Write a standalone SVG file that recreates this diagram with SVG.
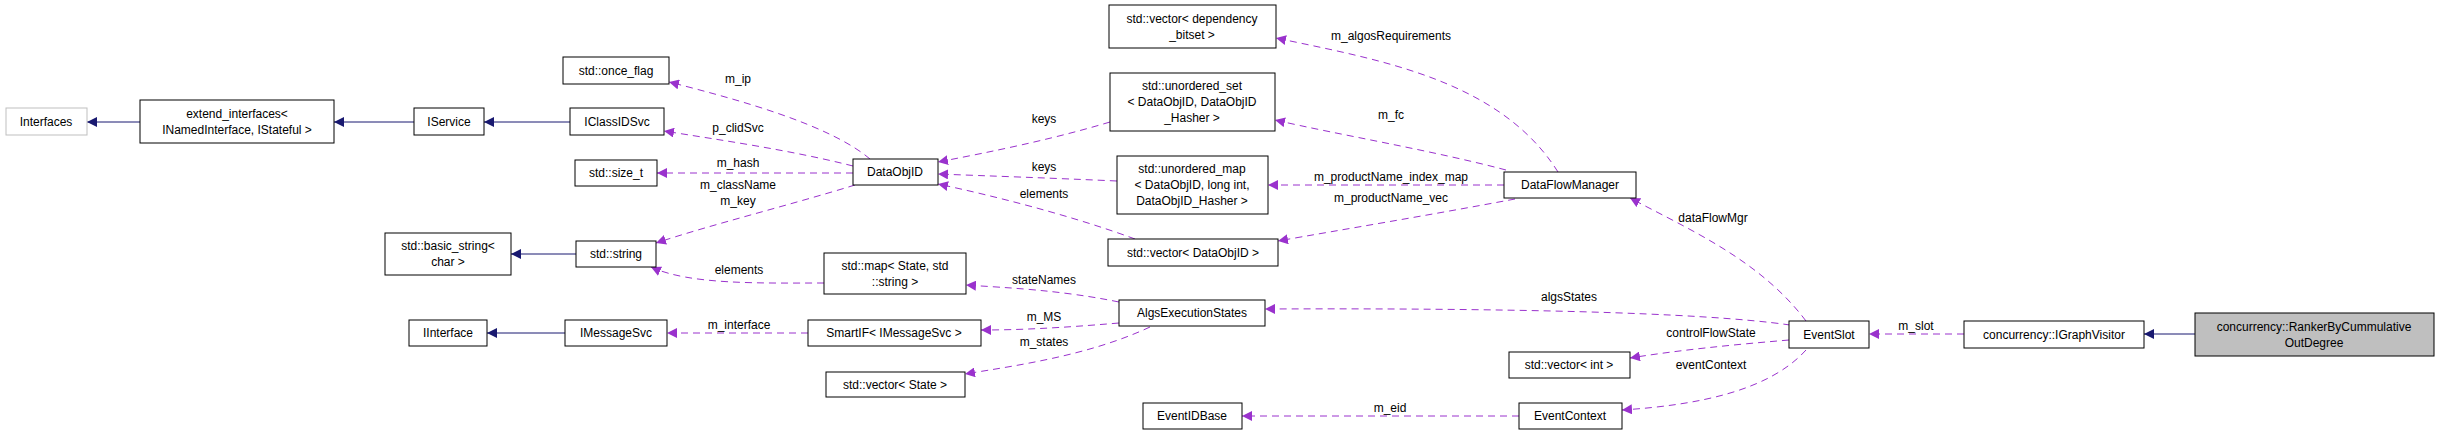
<svg xmlns="http://www.w3.org/2000/svg" width="2440" height="439" viewBox="0 0 2440 439">
<style>
.n rect{fill:#fff;stroke:#000;stroke-width:1}
text{font-family:"Liberation Sans",Arial,sans-serif;font-size:12px;fill:#000;text-anchor:middle}
.b{fill:none;stroke:#191970;stroke-width:1}
.p{fill:none;stroke:#9a32cd;stroke-width:1;stroke-dasharray:7,5}
</style>
<defs>
<marker id="ab" viewBox="0 0 10 10" refX="10" refY="5" markerWidth="10" markerHeight="10" markerUnits="userSpaceOnUse" orient="auto"><path d="M0,0L10,5L0,10z" fill="#191970"/></marker>
<marker id="ap" viewBox="0 0 10 10" refX="10" refY="5" markerWidth="10" markerHeight="10" markerUnits="userSpaceOnUse" orient="auto"><path d="M0,0L10,5L0,10z" fill="#9a32cd"/></marker>
</defs>
<g id="edges">
<path class="b" marker-end="url(#ab)" d="M140,122H87"/>
<path class="b" marker-end="url(#ab)" d="M414,122H334"/>
<path class="b" marker-end="url(#ab)" d="M570,122H484"/>
<path class="b" marker-end="url(#ab)" d="M576,254H511"/>
<path class="b" marker-end="url(#ab)" d="M565,333H487"/>
<path class="b" marker-end="url(#ab)" d="M2195,334H2144"/>
<path class="p" marker-end="url(#ap)" d="M870,159C830,125 740,100 669,82"/>
<path class="p" marker-end="url(#ap)" d="M853,166C790,150 720,140 664,131"/>
<path class="p" marker-end="url(#ap)" d="M853,173H657"/>
<path class="p" marker-end="url(#ap)" d="M855,185C790,205 710,225 656,243"/>
<path class="p" marker-end="url(#ap)" d="M824,283C760,283 690,285 651,267"/>
<path class="p" marker-end="url(#ap)" d="M808,333H667"/>
<path class="p" marker-end="url(#ap)" d="M1110,122C1050,140 990,152 938,162"/>
<path class="p" marker-end="url(#ap)" d="M1117,181C1050,178 990,176 938,174"/>
<path class="p" marker-end="url(#ap)" d="M1135,239C1070,215 990,195 938,184"/>
<path class="p" marker-end="url(#ap)" d="M1558,172C1500,80 1380,60 1276,38"/>
<path class="p" marker-end="url(#ap)" d="M1506,170C1430,150 1340,135 1275,120"/>
<path class="p" marker-end="url(#ap)" d="M1504,185H1268"/>
<path class="p" marker-end="url(#ap)" d="M1515,199C1430,215 1340,230 1278,241"/>
<path class="p" marker-end="url(#ap)" d="M1119,302C1060,290 1010,288 966,285"/>
<path class="p" marker-end="url(#ap)" d="M1119,323C1060,328 1020,330 981,330"/>
<path class="p" marker-end="url(#ap)" d="M1150,327C1090,355 1020,365 965,374"/>
<path class="p" marker-end="url(#ap)" d="M1790,325C1700,312 1500,308 1265,309"/>
<path class="p" marker-end="url(#ap)" d="M1806,321C1760,260 1690,230 1630,198"/>
<path class="p" marker-end="url(#ap)" d="M1789,340C1730,345 1680,350 1630,358"/>
<path class="p" marker-end="url(#ap)" d="M1806,350C1770,390 1700,405 1622,410"/>
<path class="p" marker-end="url(#ap)" d="M1519,416H1242"/>
<path class="p" marker-end="url(#ap)" d="M1964,334H1869"/>
<text x="738" y="83">m_ip</text>
<text x="738" y="132">p_clidSvc</text>
<text x="738" y="167">m_hash</text>
<text x="738" y="189">m_className</text>
<text x="738" y="205">m_key</text>
<text x="739" y="274">elements</text>
<text x="739" y="329">m_interface</text>
<text x="1044" y="123">keys</text>
<text x="1044" y="171">keys</text>
<text x="1044" y="198">elements</text>
<text x="1391" y="40">m_algosRequirements</text>
<text x="1391" y="119">m_fc</text>
<text x="1391" y="181">m_productName_index_map</text>
<text x="1391" y="202">m_productName_vec</text>
<text x="1044" y="284">stateNames</text>
<text x="1044" y="321">m_MS</text>
<text x="1044" y="346">m_states</text>
<text x="1569" y="301">algsStates</text>
<text x="1390" y="412">m_eid</text>
<text x="1713" y="222">dataFlowMgr</text>
<text x="1711" y="337">controlFlowState</text>
<text x="1711" y="369">eventContext</text>
<text x="1916" y="330">m_slot</text>
</g>
<g id="Interfaces" class="n"><rect x="6" y="108" width="81" height="27" style="stroke:#bfbfbf"/><text x="46" y="126">Interfaces</text></g>
<g id="extend_interfaces" class="n"><rect x="140" y="100" width="194" height="43"/><text x="237" y="118">extend_interfaces&lt;</text><text x="237" y="134">INamedInterface, IStateful &gt;</text></g>
<g id="IService" class="n"><rect x="414" y="108" width="70" height="27"/><text x="449" y="126">IService</text></g>
<g id="IClassIDSvc" class="n"><rect x="570" y="108" width="94" height="27"/><text x="617" y="126">IClassIDSvc</text></g>
<g id="once_flag" class="n"><rect x="563" y="57" width="106" height="27"/><text x="616" y="75">std::once_flag</text></g>
<g id="size_t" class="n"><rect x="575" y="160" width="82" height="26"/><text x="616" y="177">std::size_t</text></g>
<g id="basic_string" class="n"><rect x="385" y="233" width="126" height="42"/><text x="448" y="250">std::basic_string&lt;</text><text x="448" y="266">char &gt;</text></g>
<g id="string" class="n"><rect x="576" y="241" width="80" height="26"/><text x="616" y="258">std::string</text></g>
<g id="IInterface" class="n"><rect x="409" y="320" width="78" height="26"/><text x="448" y="337">IInterface</text></g>
<g id="IMessageSvc" class="n"><rect x="565" y="320" width="102" height="26"/><text x="616" y="337">IMessageSvc</text></g>
<g id="DataObjID" class="n"><rect x="853" y="159" width="85" height="26"/><text x="895" y="176">DataObjID</text></g>
<g id="vector_dep" class="n"><rect x="1109" y="5" width="167" height="43"/><text x="1192" y="23">std::vector&lt; dependency</text><text x="1192" y="39">_bitset &gt;</text></g>
<g id="unordered_set" class="n"><rect x="1110" y="73" width="165" height="58"/><text x="1192" y="90">std::unordered_set</text><text x="1192" y="106">&lt; DataObjID, DataObjID</text><text x="1192" y="122">_Hasher &gt;</text></g>
<g id="unordered_map" class="n"><rect x="1117" y="156" width="151" height="58"/><text x="1192" y="173">std::unordered_map</text><text x="1192" y="189">&lt; DataObjID, long int,</text><text x="1192" y="205">DataObjID_Hasher &gt;</text></g>
<g id="vector_DataObjID" class="n"><rect x="1108" y="239" width="170" height="27"/><text x="1193" y="257">std::vector&lt; DataObjID &gt;</text></g>
<g id="DataFlowManager" class="n"><rect x="1504" y="172" width="132" height="26"/><text x="1570" y="189">DataFlowManager</text></g>
<g id="map_State" class="n"><rect x="824" y="253" width="142" height="41"/><text x="895" y="270">std::map&lt; State, std</text><text x="895" y="286">::string &gt;</text></g>
<g id="AlgsExecutionStates" class="n"><rect x="1119" y="300" width="146" height="26"/><text x="1192" y="317">AlgsExecutionStates</text></g>
<g id="SmartIF" class="n"><rect x="808" y="320" width="173" height="26"/><text x="894" y="337">SmartIF&lt; IMessageSvc &gt;</text></g>
<g id="vector_State" class="n"><rect x="826" y="372" width="139" height="25"/><text x="895" y="389">std::vector&lt; State &gt;</text></g>
<g id="vector_int" class="n"><rect x="1509" y="352" width="121" height="26"/><text x="1569" y="369">std::vector&lt; int &gt;</text></g>
<g id="EventIDBase" class="n"><rect x="1143" y="403" width="99" height="26"/><text x="1192" y="420">EventIDBase</text></g>
<g id="EventContext" class="n"><rect x="1519" y="403" width="103" height="26"/><text x="1570" y="420">EventContext</text></g>
<g id="EventSlot" class="n"><rect x="1789" y="321" width="80" height="27"/><text x="1829" y="339">EventSlot</text></g>
<g id="IGraphVisitor" class="n"><rect x="1964" y="321" width="180" height="27"/><text x="2054" y="339">concurrency::IGraphVisitor</text></g>
<g id="RankerByCummulativeOutDegree" class="n"><rect x="2195" y="313" width="239" height="43" style="fill:#bfbfbf"/><text x="2314" y="331">concurrency::RankerByCummulative</text><text x="2314" y="347">OutDegree</text></g>
</svg>
